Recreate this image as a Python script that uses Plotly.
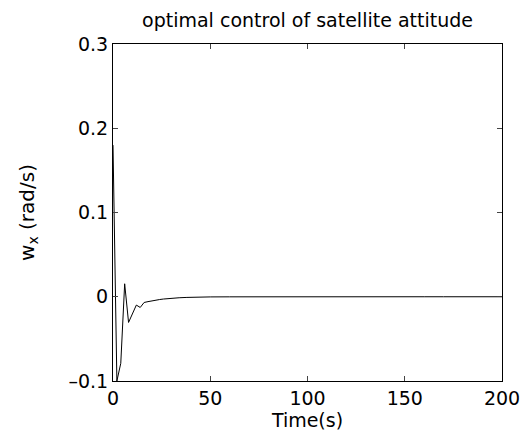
import plotly.graph_objects as go

time_s = [0, 2, 4, 6, 8, 10, 12, 14, 16, 18, 20, 22, 24, 26, 28, 30, 34, 38, 42, 46, 50,
          60, 70, 80, 90, 100, 110, 120, 130, 140, 150, 160, 170, 180, 190, 200]
wx = [0.18, -0.1, -0.079, 0.0154, -0.0305, -0.02, -0.0099, -0.0127, -0.0068, -0.0058,
      -0.0048, -0.004, -0.0033, -0.0027, -0.0022, -0.0018, -0.0012, -0.0008, -0.0005,
      -0.0003, -0.0002, -0.0001, 0, 0, 0, 0, 0, 0, 0, 0, 0, 0, 0, 0, 0, 0]

x_ticks = [0, 50, 100, 150, 200]
y_ticks = [-0.1, 0, 0.1, 0.2, 0.3]
y_tick_text = ["\u20130.1", "0", "0.1", "0.2", "0.3"]

fig = go.Figure()
fig.add_trace(go.Scatter(x=time_s, y=wx, mode="lines",
                         line=dict(color="black", width=1), showlegend=False))

font = "DejaVu Sans, Liberation Sans, Arial, sans-serif"
fig.update_layout(
    width=523, height=436,
    margin=dict(l=105, r=29, t=36, b=63),
    paper_bgcolor="white", plot_bgcolor="white",
    font=dict(family=font, color="black", size=19),
    title=dict(text="optimal control of satellite attitude", xref="paper", x=0.5,
               xanchor="center", y=1 - 12 / 436, yanchor="middle",
               font=dict(size=19, family=font)),
)
fig.update_xaxes(range=[0, 200], tickvals=x_ticks, ticks="inside", ticklen=5,
                 showline=True, linecolor="black", linewidth=1, mirror="ticks",
                 showgrid=False, zeroline=False,
                 title=dict(text="Time(s)", standoff=5, font=dict(size=19)))
fig.update_yaxes(range=[-0.1, 0.3], tickvals=y_ticks, ticktext=y_tick_text,
                 ticks="inside", ticklen=5,
                 showline=True, linecolor="black", linewidth=1, mirror="ticks",
                 showgrid=False, zeroline=False,
                 title=dict(text="w<sub>x</sub> (rad/s)", standoff=28, font=dict(size=20)))

fig.write_html("out.html")
